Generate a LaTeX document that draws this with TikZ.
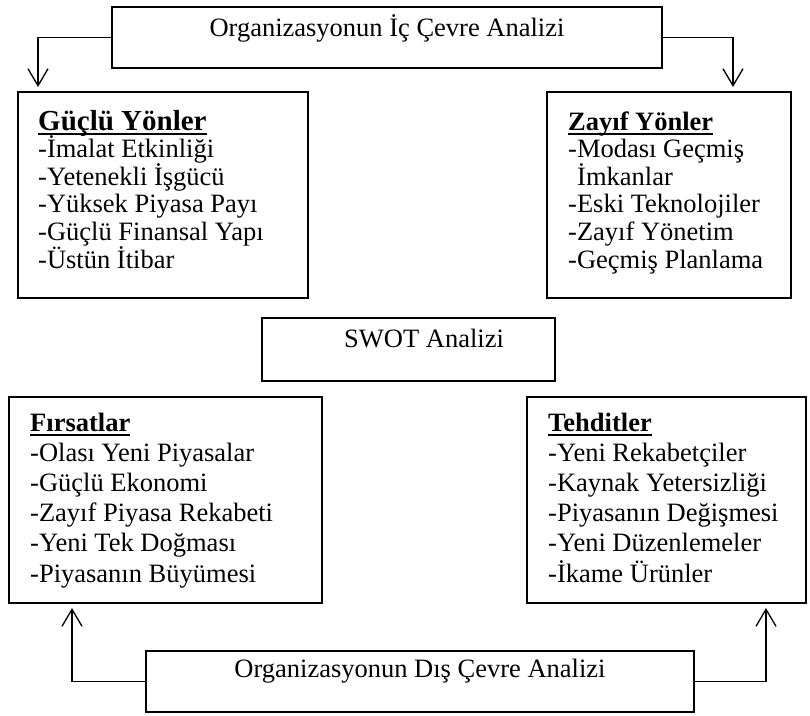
\documentclass[tikz,border=0pt]{standalone}
\usepackage{fontspec}
\setmainfont{Liberation Serif}
\usetikzlibrary{arrows.meta}
\newcommand\ulbf[1]{\setbox0\hbox{\bfseries #1}\rlap{\rule[-4.5pt]{\wd0}{1.8pt}}\box0}
\newcommand\stacklines[2]{\vtop{\baselineskip=#1\lineskiplimit=-100pt #2}}
\begin{document}
\begin{tikzpicture}[x=1pt,y=-1pt,
  box/.style={draw, line width=1.6pt, anchor=north west, inner sep=0pt, outer sep=0pt},
  txt/.style={inner sep=0pt, anchor=base west, font=\fontsize{26.5pt}{27.6pt}\selectfont},
  arr/.style={line width=1.3pt, -{Straight Barb[length=17pt,width=20pt,line width=1.3pt]}, shorten >=5pt}]
\useasboundingbox (0,0) rectangle (810,715);
% boxes
\node[box, minimum width=550pt, minimum height=61pt]  (ic) at (112,7) {};
\node[box, minimum width=290pt, minimum height=206pt] (gb) at (18,92) {};
\node[box, minimum width=244pt, minimum height=206pt] (zb) at (547,92) {};
\node[box, minimum width=293pt, minimum height=63pt]  (sw) at (262,318) {};
\node[box, minimum width=313pt, minimum height=206pt] (fb) at (9,397) {};
\node[box, minimum width=279pt, minimum height=206pt] (tb) at (527,397) {};
\node[box, minimum width=548pt, minimum height=61pt]  (db) at (146,651) {};
% texts
\node[txt, anchor=base] (ict) at (387,36) {Organizasyonun İç Çevre Analizi};
\node[txt] (swt) at (344,347) {SWOT Analizi};
\node[txt, anchor=base] (dbt) at (420,677) {Organizasyonun Dış Çevre Analizi};
\node[txt] (gt) at (38,130) {\stacklines{27.6pt}{%
  \hbox{\fontsize{29pt}{27.6pt}\selectfont\ulbf{Güçlü Yönler}}
  \hbox{-İmalat Etkinliği}
  \hbox{-Yetenekli İşgücü}
  \hbox{-Yüksek Piyasa Payı}
  \hbox{-Güçlü Finansal Yapı}
  \hbox{-Üstün İtibar}}};
\node[txt] (zt) at (568,130) {\stacklines{27.6pt}{%
  \hbox{\ulbf{Zayıf Yönler}}
  \hbox{-Modası Geçmiş}
  \hbox{\hspace{9pt}İmkanlar}
  \hbox{-Eski Teknolojiler}
  \hbox{-Zayıf Yönetim}
  \hbox{-Geçmiş Planlama}}};
\node[txt] (ft) at (30,431) {\stacklines{30.2pt}{%
  \hbox{\ulbf{Fırsatlar}}
  \hbox{-Olası Yeni Piyasalar}
  \hbox{-Güçlü Ekonomi}
  \hbox{-Zayıf Piyasa Rekabeti}
  \hbox{-Yeni Tek Doğması}
  \hbox{-Piyasanın Büyümesi}}};
\node[txt] (tt) at (548,431) {\stacklines{30.2pt}{%
  \hbox{\ulbf{Tehditler}}
  \hbox{-Yeni Rekabetçiler}
  \hbox{-Kaynak Yetersizliği}
  \hbox{-Piyasanın Değişmesi}
  \hbox{-Yeni Düzenlemeler}
  \hbox{-İkame Ürünler}}};
% connectors
\draw[arr] (ic.west) -| ([xshift=20pt]gb.north west);
\draw[arr] (ic.east) -| ([xshift=-58pt]zb.north east);
\draw[arr] (db.west) -| ([xshift=63pt]fb.south west);
\draw[arr] (db.east) -| ([xshift=-40pt]tb.south east);
\end{tikzpicture}
\end{document}
